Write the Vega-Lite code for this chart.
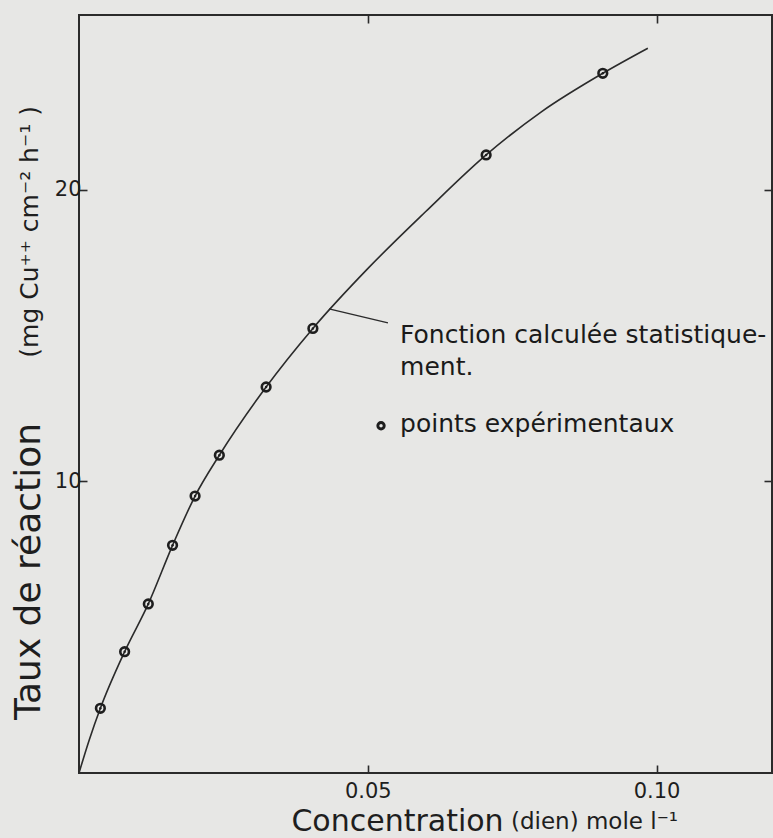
{
  "$schema": "https://vega.github.io/schema/vega-lite/v6.json",
  "width": 693,
  "height": 758,
  "autosize": {"type": "none"},
  "padding": {"left": 79, "top": 15, "right": 1, "bottom": 65},
  "background": "#e7e7e5",
  "config": {
    "view": {"stroke": "#2b2b2b", "strokeWidth": 2},
    "axis": {
      "domain": false,
      "grid": false,
      "tickColor": "#2b2b2b",
      "tickWidth": 1.6,
      "tickSize": -8,
      "labelFont": "DejaVu Sans",
      "labelFontSize": 21,
      "labelColor": "#1e1e1e",
      "titleFont": "DejaVu Sans",
      "titleColor": "#1e1e1e",
      "titleFontWeight": "normal"
    }
  },
  "datasets": {
    "curve": [
      {"x": 0, "y": 0},
      {"x": 0.0018, "y": 1.15},
      {"x": 0.0037, "y": 2.22},
      {"x": 0.0079, "y": 4.16},
      {"x": 0.012, "y": 5.8},
      {"x": 0.0162, "y": 7.81},
      {"x": 0.0201, "y": 9.5},
      {"x": 0.0243, "y": 10.9},
      {"x": 0.0324, "y": 13.24},
      {"x": 0.0405, "y": 15.25},
      {"x": 0.05, "y": 17.3},
      {"x": 0.06, "y": 19.25},
      {"x": 0.0705, "y": 21.2},
      {"x": 0.08, "y": 22.67},
      {"x": 0.0907, "y": 24.0},
      {"x": 0.0985, "y": 24.86}
    ],
    "points": [
      {"x": 0.0037, "y": 2.22},
      {"x": 0.0079, "y": 4.16},
      {"x": 0.012, "y": 5.8},
      {"x": 0.0162, "y": 7.81},
      {"x": 0.0201, "y": 9.5},
      {"x": 0.0243, "y": 10.9},
      {"x": 0.0324, "y": 13.24},
      {"x": 0.0405, "y": 15.25},
      {"x": 0.0705, "y": 21.2},
      {"x": 0.0907, "y": 24.0}
    ],
    "leader": [
      {"x": 0.0433, "y": 15.92, "x2": 0.0535, "y2": 15.44}
    ],
    "notes": [
      {"x": 0.0556, "y": 14.75, "t": "Fonction calculée statistique-"},
      {"x": 0.0556, "y": 13.65, "t": "ment."},
      {"x": 0.0556, "y": 11.7, "t": "points expérimentaux"}
    ],
    "bullet": [
      {"x": 0.0523, "y": 11.91}
    ],
    "ytitle2": [
      {"x": -0.0071, "y": 18.56, "t": "(mg Cu⁺⁺ cm⁻² h⁻¹ )"}
    ],
    "xtitle2": [
      {"x": 0.0748, "y": -1.93, "t": "(dien) mole  l⁻¹"}
    ]
  },
  "layer": [
    {
      "data": {"name": "curve"},
      "mark": {"type": "line", "interpolate": "monotone", "color": "#2b2b2b", "strokeWidth": 1.6},
      "encoding": {
        "x": {
          "field": "x", "type": "quantitative",
          "scale": {"domain": [0, 0.12], "nice": false, "zero": false},
          "axis": {
            "orient": "bottom", "values": [0.05, 0.1], "format": ".2f", "labelPadding": 15,
            "title": "Concentration", "titleFontSize": 30, "titleX": 318, "titleY": 57,
            "titleAlign": "center", "titleBaseline": "alphabetic"
          }
        },
        "y": {
          "field": "y", "type": "quantitative",
          "scale": {"domain": [0, 26], "nice": false, "zero": false},
          "axis": {
            "orient": "left", "values": [10, 20], "labelPadding": 6,
            "title": "Taux de réaction", "titleFontSize": 36, "titleAngle": 270,
            "titleX": -40, "titleY": 556, "titleAlign": "center", "titleBaseline": "alphabetic"
          }
        }
      }
    },
    {
      "data": {"name": "leader"},
      "mark": {"type": "rule", "color": "#2b2b2b", "strokeWidth": 1.5},
      "encoding": {
        "x": {"field": "x", "type": "quantitative", "axis": {"orient": "top", "values": [0.05, 0.1], "labels": false, "title": null}},
        "y": {"field": "y", "type": "quantitative", "axis": {"orient": "right", "values": [10, 20], "labels": false, "title": null}},
        "x2": {"field": "x2"},
        "y2": {"field": "y2"}
      }
    },
    {
      "data": {"name": "points"},
      "mark": {"type": "point", "shape": "circle", "filled": false, "size": 75, "strokeWidth": 2.6, "color": "#1e1e1e", "opacity": 1},
      "encoding": {
        "x": {"field": "x", "type": "quantitative", "axis": null},
        "y": {"field": "y", "type": "quantitative", "axis": null}
      }
    },
    {
      "data": {"name": "points"},
      "mark": {"type": "point", "shape": "circle", "filled": true, "size": 6, "color": "#1e1e1e", "opacity": 1},
      "encoding": {
        "x": {"field": "x", "type": "quantitative", "axis": null},
        "y": {"field": "y", "type": "quantitative", "axis": null}
      }
    },
    {
      "data": {"name": "bullet"},
      "mark": {"type": "point", "shape": "circle", "filled": false, "size": 40, "strokeWidth": 3, "color": "#1e1e1e", "opacity": 1},
      "encoding": {
        "x": {"field": "x", "type": "quantitative", "axis": null},
        "y": {"field": "y", "type": "quantitative", "axis": null}
      }
    },
    {
      "data": {"name": "notes"},
      "mark": {"type": "text", "align": "left", "baseline": "alphabetic", "font": "DejaVu Sans", "fontSize": 25, "color": "#1a1a1a"},
      "encoding": {
        "x": {"field": "x", "type": "quantitative", "axis": null},
        "y": {"field": "y", "type": "quantitative", "axis": null},
        "text": {"field": "t"}
      }
    },
    {
      "data": {"name": "ytitle2"},
      "mark": {"type": "text", "align": "center", "baseline": "alphabetic", "angle": 270, "font": "DejaVu Sans", "fontSize": 25, "color": "#1e1e1e"},
      "encoding": {
        "x": {"field": "x", "type": "quantitative", "axis": null},
        "y": {"field": "y", "type": "quantitative", "axis": null},
        "text": {"field": "t"}
      }
    },
    {
      "data": {"name": "xtitle2"},
      "mark": {"type": "text", "align": "left", "baseline": "alphabetic", "font": "DejaVu Sans", "fontSize": 23, "color": "#1e1e1e"},
      "encoding": {
        "x": {"field": "x", "type": "quantitative", "axis": null},
        "y": {"field": "y", "type": "quantitative", "axis": null},
        "text": {"field": "t"}
      }
    }
  ],
  "resolve": {"axis": {"x": "independent", "y": "independent"}}
}
